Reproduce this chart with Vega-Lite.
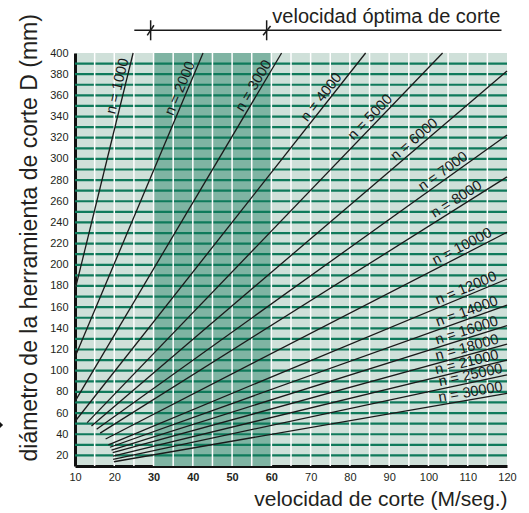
{
  "$schema": "https://vega.github.io/schema/vega-lite/v6.json",
  "width": 432,
  "height": 413,
  "autosize": "none",
  "padding": {"left": 75, "top": 53, "right": 22, "bottom": 47},
  "background": "#ffffff",
  "view": {"fill": "#cfe0d9", "stroke": null},
  "config": {
    "axis": {
      "grid": false,
      "ticks": false,
      "labelOverlap": false,
      "domainColor": "#111111",
      "domainWidth": 3,
      "labelFont": "Liberation Sans",
      "labelFontSize": 11,
      "labelColor": "#231f20",
      "titleFont": "Liberation Sans",
      "titleFontWeight": "normal",
      "titleColor": "#231f20"
    }
  },
  "datasets": {
    "band": [{"v": 30, "v2": 60}],
    "hgrid": [
      {"d": 20}, {"d": 30}, {"d": 40}, {"d": 50}, {"d": 60}, {"d": 70}, {"d": 80}, {"d": 90},
      {"d": 100}, {"d": 110}, {"d": 120}, {"d": 130}, {"d": 140}, {"d": 150}, {"d": 160}, {"d": 170},
      {"d": 180}, {"d": 190}, {"d": 200}, {"d": 210}, {"d": 220}, {"d": 230}, {"d": 240}, {"d": 250},
      {"d": 260}, {"d": 270}, {"d": 280}, {"d": 290}, {"d": 300}, {"d": 310}, {"d": 320}, {"d": 330},
      {"d": 340}, {"d": 350}, {"d": 360}, {"d": 370}, {"d": 380}, {"d": 390}
    ],
    "vgrid": [
      {"v": 15}, {"v": 20}, {"v": 25}, {"v": 30}, {"v": 35}, {"v": 40}, {"v": 45}, {"v": 50},
      {"v": 55}, {"v": 60}, {"v": 65}, {"v": 70}, {"v": 75}, {"v": 80}, {"v": 85}, {"v": 90},
      {"v": 95}, {"v": 100}, {"v": 105}, {"v": 110}, {"v": 115}
    ],
    "lines": [
      {"n": 1000, "v": 10, "d": 176, "v2": 24.8, "d2": 400},
      {"n": 2000, "v": 10, "d": 113, "v2": 42.6, "d2": 400},
      {"n": 3000, "v": 10, "d": 71, "v2": 62.6, "d2": 400},
      {"n": 4000, "v": 10, "d": 52, "v2": 84, "d2": 400},
      {"n": 5000, "v": 13.1, "d": 51, "v2": 103.6, "d2": 400},
      {"n": 6000, "v": 14.2, "d": 47.8, "v2": 120, "d2": 383},
      {"n": 7000, "v": 15.5, "d": 44.7, "v2": 120, "d2": 322.6},
      {"n": 8000, "v": 16.4, "d": 41, "v2": 120, "d2": 283},
      {"n": 10000, "v": 17.8, "d": 35.5, "v2": 120, "d2": 230.7},
      {"n": 12000, "v": 18.5, "d": 30, "v2": 120, "d2": 186.6},
      {"n": 14000, "v": 18.9, "d": 27.7, "v2": 120, "d2": 162},
      {"n": 16000, "v": 19.3, "d": 25, "v2": 120, "d2": 142.5},
      {"n": 18000, "v": 19.6, "d": 22.6, "v2": 120, "d2": 125},
      {"n": 21000, "v": 19.7, "d": 19.4, "v2": 120, "d2": 110},
      {"n": 25000, "v": 19.7, "d": 16.3, "v2": 120, "d2": 96},
      {"n": 30000, "v": 19.9, "d": 14, "v2": 120, "d2": 78.6}
    ],
    "labels": [
      {"n": "1000", "label": "n = 1000", "v": 22.67, "d": 367},
      {"n": "2000", "label": "n = 2000", "v": 38.5, "d": 364},
      {"n": "3000", "label": "n = 3000", "v": 57.1, "d": 365.5},
      {"n": "4000", "label": "n = 4000", "v": 74.2, "d": 354},
      {"n": "5000", "label": "n = 5000", "v": 86.5, "d": 334.5},
      {"n": "6000", "label": "n = 6000", "v": 97.6, "d": 313},
      {"n": "7000", "label": "n = 7000", "v": 104.8, "d": 282.5},
      {"n": "8000", "label": "n = 8000", "v": 108.1, "d": 256},
      {"n": "10000", "label": "n = 10000", "v": 109.4, "d": 211},
      {"n": "12000", "label": "n = 12000", "v": 110.3, "d": 171.5},
      {"n": "14000", "label": "n = 14000", "v": 110.4, "d": 149.4},
      {"n": "16000", "label": "n = 16000", "v": 110.3, "d": 131.3},
      {"n": "18000", "label": "n = 18000", "v": 110.3, "d": 115.1},
      {"n": "21000", "label": "n = 21000", "v": 110.2, "d": 101.1},
      {"n": "25000", "label": "n = 25000", "v": 111.1, "d": 89},
      {"n": "30000", "label": "n = 30000", "v": 111, "d": 72.8}
    ],
    "annot": [
      {"v": 25.1, "d": 421.4, "v2": 118.6, "d2": 421.4},
      {"v": 29.26, "d": 412, "v2": 29.26, "d2": 430.9},
      {"v": 58.8, "d": 412, "v2": 58.8, "d2": 430.9},
      {"v": 28.4, "d": 416.7, "v2": 30.1, "d2": 426.2},
      {"v": 57.9, "d": 416.7, "v2": 59.8, "d2": 425.5}
    ],
    "annotText": [{"v": 60, "d": 428, "label": "velocidad óptima de corte"}],
    "marker": [{"v": -9.3, "d": 48.7}]
  },
  "layer": [
    {
      "data": {"name": "band"},
      "mark": {"type": "rect", "color": "#7fb4a3"},
      "encoding": {
        "x": {"field": "v", "type": "quantitative", "scale": {"domain": [10, 120], "nice": false, "zero": false}},
        "x2": {"field": "v2"}
      }
    },
    {
      "data": {"name": "hgrid"},
      "mark": {"type": "rule", "color": "#0f7a5b", "strokeWidth": 2.2},
      "encoding": {
        "y": {"field": "d", "type": "quantitative", "scale": {"domain": [10, 400], "nice": false, "zero": false}}
      }
    },
    {
      "data": {"name": "vgrid"},
      "mark": {"type": "rule", "color": "#ffffff", "strokeWidth": 1.5},
      "encoding": {
        "x": {"field": "v", "type": "quantitative", "scale": {"domain": [10, 120], "nice": false, "zero": false}}
      }
    },
    {
      "data": {"name": "lines"},
      "mark": {"type": "rule", "color": "#1a1a1a", "strokeWidth": 1.3},
      "encoding": {
        "x": {
          "field": "v", "type": "quantitative",
          "scale": {"domain": [10, 120], "nice": false, "zero": false},
          "axis": {
            "values": [10, 20, 30, 40, 50, 60, 70, 80, 90, 100, 110, 120],
            "tickCount": 100,
            "labelFlush": false,
            "labelOverlap": false,
            "labelPadding": 5,
            "labelFontWeight": {"condition": {"test": "datum.value >= 30 && datum.value <= 60", "value": "bold"}, "value": "normal"},
            "title": "velocidad de corte (M/seg.)",
            "titleFontSize": 21,
            "titleAnchor": "end",
            "titleAlign": "right",
            "titleBaseline": "alphabetic",
            "titleX": 432,
            "titleY": 39
          }
        },
        "y": {
          "field": "d", "type": "quantitative",
          "scale": {"domain": [10, 400], "nice": false, "zero": false},
          "axis": {
            "values": [20, 40, 60, 80, 100, 120, 140, 160, 180, 200, 220, 240, 260, 280, 300, 320, 340, 360, 380, 400],
            "tickCount": 100,
            "labelOverlap": false,
            "labelPadding": 7,
            "title": "diámetro de la herramienta de corte D (mm)",
            "titleFontSize": 23,
            "titleAngle": -90,
            "titleAlign": "left",
            "titleBaseline": "alphabetic",
            "titleX": -39,
            "titleY": 408
          }
        },
        "x2": {"field": "v2"},
        "y2": {"field": "d2"}
      }
    },
    {
      "data": {"name": "labels"},
      "mark": {"type": "text", "font": "Liberation Sans", "fontSize": 14.5, "color": "#1a1a1a", "align": "center", "baseline": "bottom", "dy": 0},
      "encoding": {
        "x": {"field": "v", "type": "quantitative", "scale": {"domain": [10, 120], "nice": false, "zero": false}},
        "y": {"field": "d", "type": "quantitative", "scale": {"domain": [10, 400], "nice": false, "zero": false}},
        "text": {"field": "label"},
        "angle": {
          "field": "n", "type": "nominal", "legend": null,
          "scale": {
            "type": "ordinal",
            "domain": ["1000", "2000", "3000", "4000", "5000", "6000", "7000", "8000", "10000", "12000", "14000", "16000", "18000", "21000", "25000", "30000"],
            "range": [-76.2, -67.1, -59.3, -51.8, -46.1, -40.5, -35.6, -32.2, -27.2, -22.6, -19.7, -17.5, -15.4, -13.7, -12.1, -9.9]
          }
        }
      }
    },
    {
      "data": {"name": "annot"},
      "mark": {"type": "rule", "color": "#1a1a1a", "strokeWidth": 1.5},
      "encoding": {
        "x": {"field": "v", "type": "quantitative", "scale": {"domain": [10, 120], "nice": false, "zero": false}},
        "y": {"field": "d", "type": "quantitative", "scale": {"domain": [10, 400], "nice": false, "zero": false}},
        "x2": {"field": "v2"},
        "y2": {"field": "d2"}
      }
    },
    {
      "data": {"name": "annotText"},
      "mark": {"type": "text", "font": "Liberation Sans", "fontSize": 20, "color": "#231f20", "align": "left", "baseline": "alphabetic", "dx": 1},
      "encoding": {
        "x": {"field": "v", "type": "quantitative", "scale": {"domain": [10, 120], "nice": false, "zero": false}},
        "y": {"field": "d", "type": "quantitative", "scale": {"domain": [10, 400], "nice": false, "zero": false}},
        "text": {"field": "label"}
      }
    },
    {
      "data": {"name": "marker"},
      "mark": {"type": "point", "shape": "diamond", "filled": true, "color": "#111111", "size": 60, "opacity": 1},
      "encoding": {
        "x": {"field": "v", "type": "quantitative", "scale": {"domain": [10, 120], "nice": false, "zero": false}},
        "y": {"field": "d", "type": "quantitative", "scale": {"domain": [10, 400], "nice": false, "zero": false}}
      }
    }
  ]
}
